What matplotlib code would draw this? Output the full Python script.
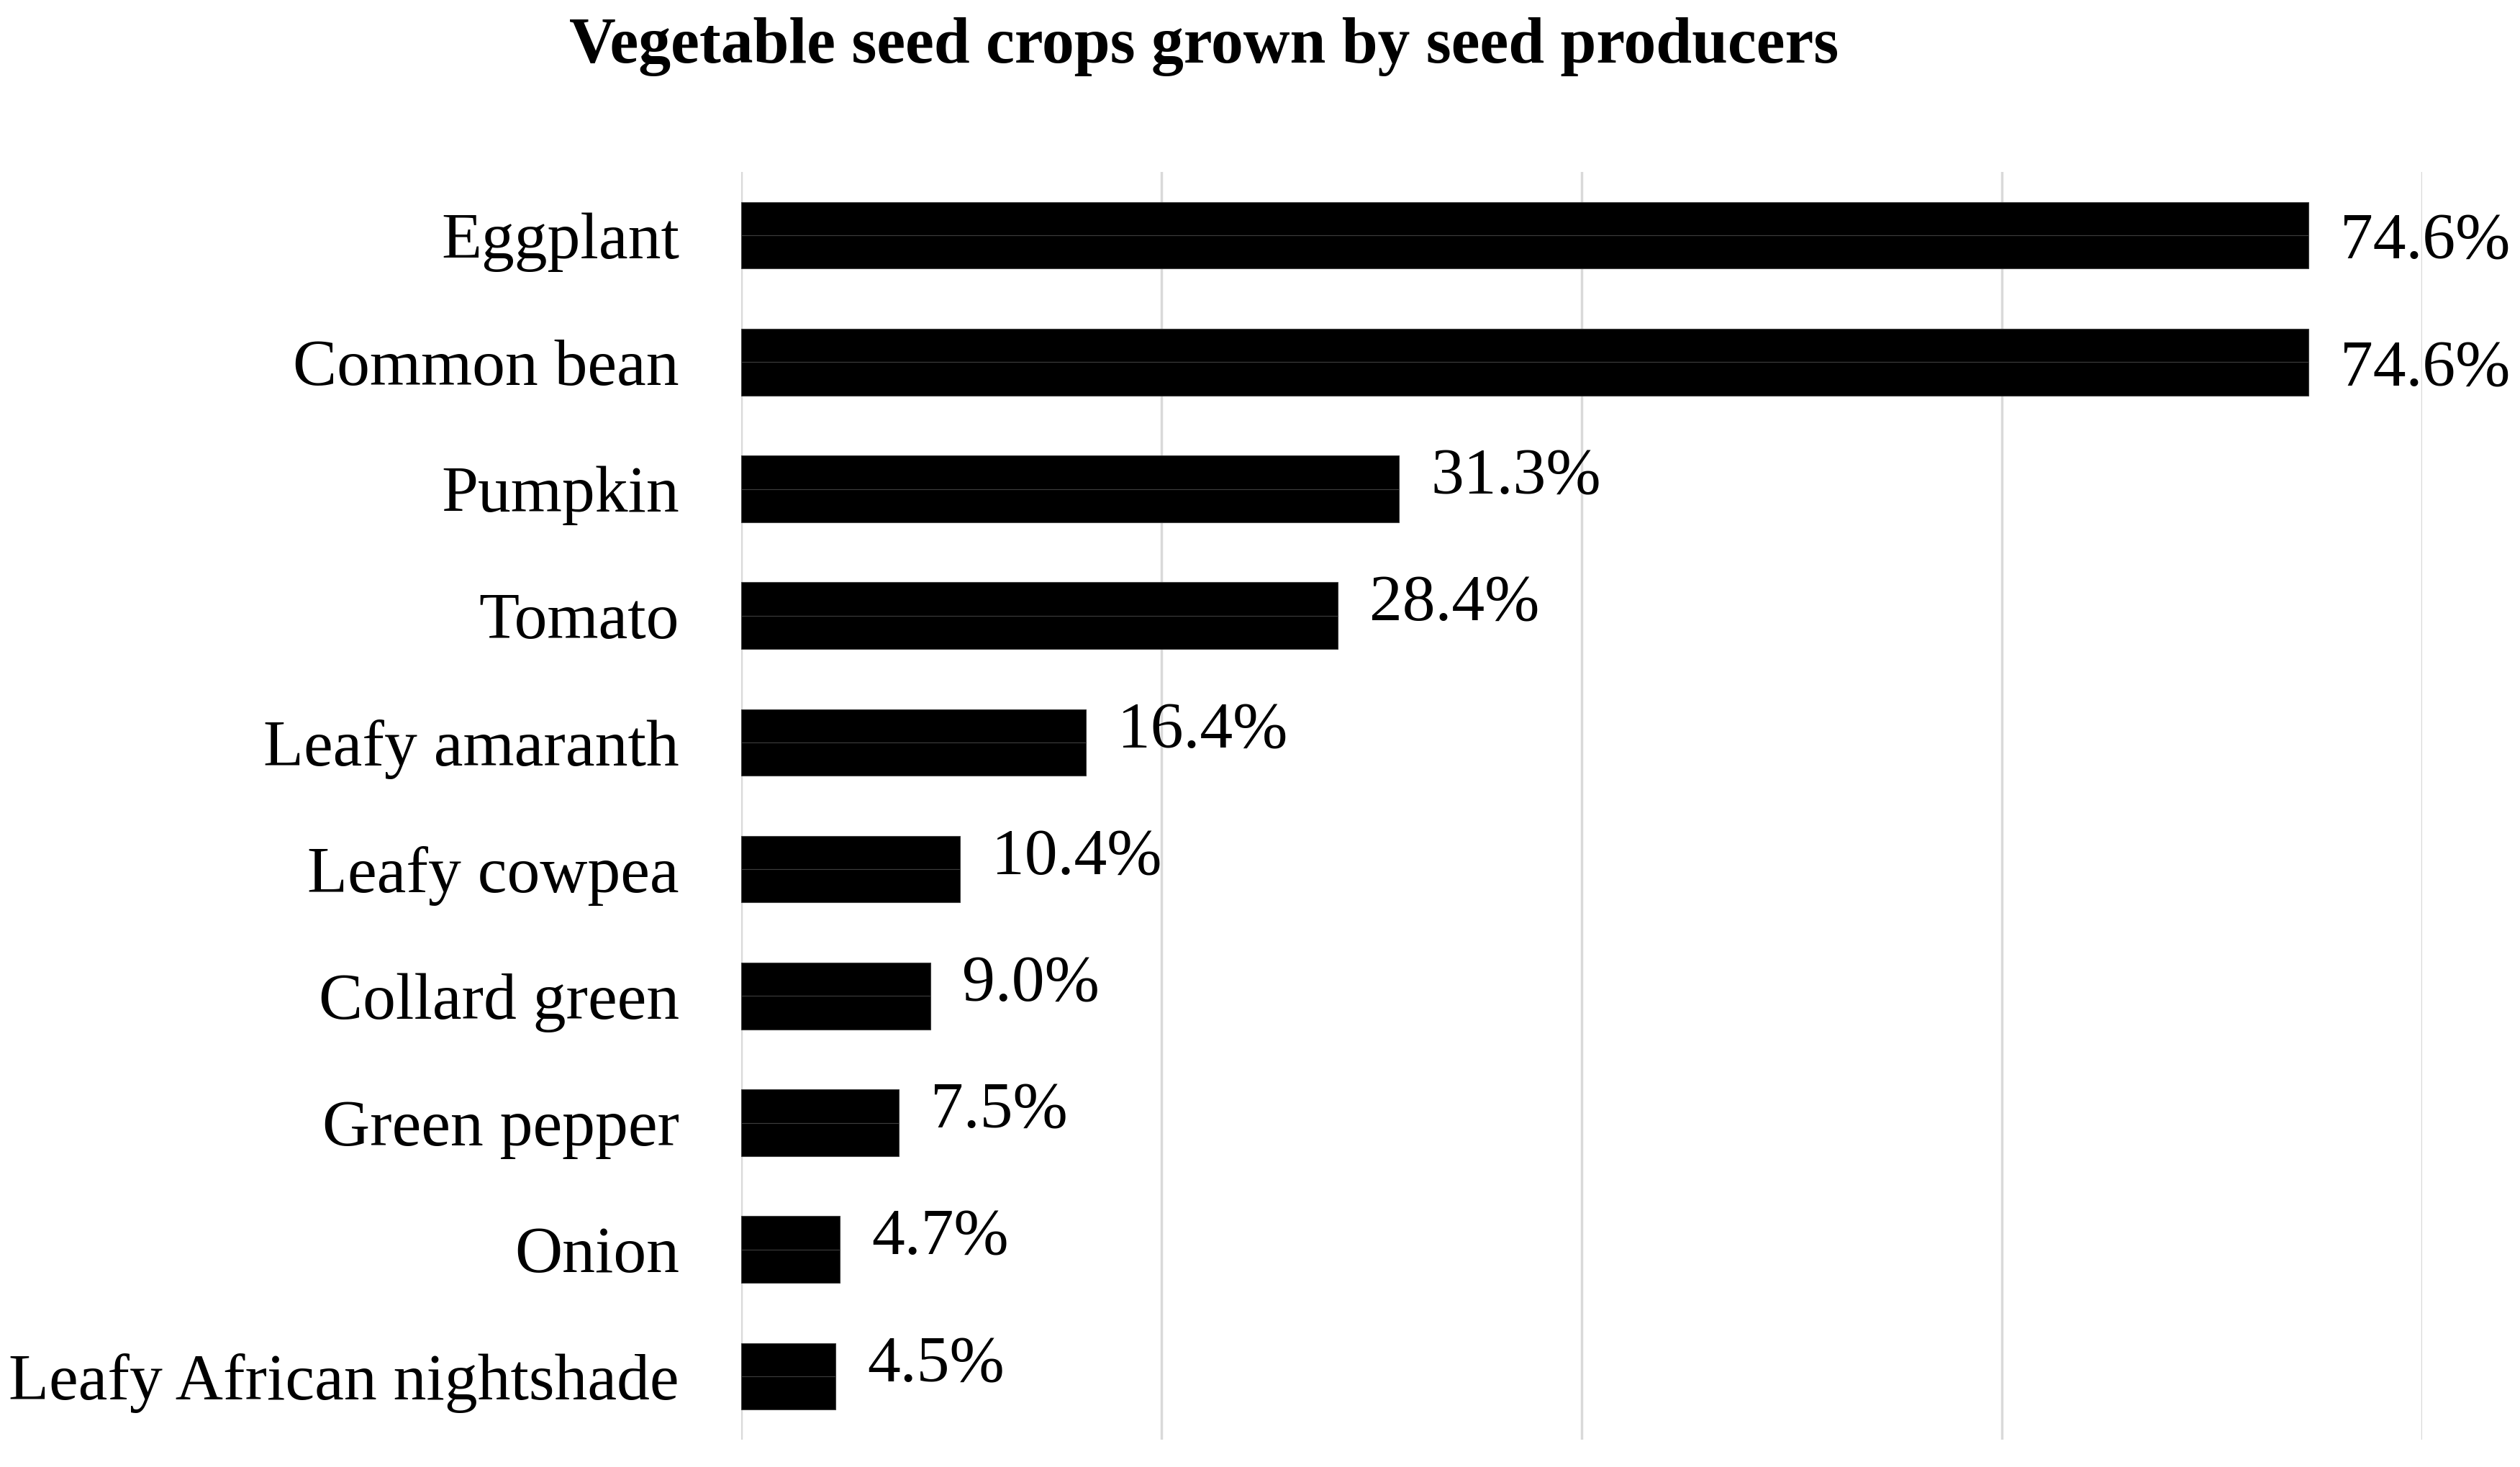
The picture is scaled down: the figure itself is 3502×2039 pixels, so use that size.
import matplotlib
matplotlib.use("Agg")
import matplotlib.pyplot as plt

categories = ["Eggplant", "Common bean", "Pumpkin", "Tomato", "Leafy amaranth",
              "Leafy cowpea", "Collard green", "Green pepper", "Onion",
              "Leafy African nightshade"]
values = [74.6, 74.6, 31.3, 28.4, 16.4, 10.4, 9.0, 7.5, 4.7, 4.5]
value_labels = ["74.6%", "74.6%", "31.3%", "28.4%", "16.4%", "10.4%", "9.0%",
                "7.5%", "4.7%", "4.5%"]
title = "Vegetable seed crops grown by seed producers"

FONT = ["Liberation Serif", "DejaVu Serif"]
plt.rcParams['font.family'] = FONT

W, H, DPI = 3502, 2039, 100
fig = plt.figure(figsize=(W / DPI, H / DPI), dpi=DPI)
L, R, T, B = 1030, 3366, 239, 2001
ax = fig.add_axes([L / W, 1 - B / H, (R - L) / W, (B - T) / H])

ypos = list(range(len(categories)))
bh = 0.525
for y, v in zip(ypos, values):
    ax.barh([y - bh / 4, y + bh / 4], [v, v], height=bh / 2, color="black",
            edgecolor="#3c3c3c", linewidth=0.8, zorder=3)

px_per_unit = (R - L) / 80
for y, v, lab in zip(ypos, values, value_labels):
    dy = 0.06 if v > 70 else -0.085
    ax.text(v + 44 / px_per_unit, y + dy, lab, va="center", ha="left",
            fontsize=66, color="black")

ax.set_xlim(0, 80)
ax.set_ylim(len(categories) - 0.5, -0.5)
ax.set_xticks([0, 20, 40, 60, 80])
ax.set_xticklabels([])
ax.set_yticks(ypos)
ax.set_yticklabels(categories, fontsize=66)
ax.tick_params(axis="both", length=0)
ax.tick_params(axis="y", pad=62)
ax.grid(axis="x", color="#d9d9d9", linewidth=2.5, zorder=0)
ax.set_axisbelow(True)
for s in ax.spines.values():
    s.set_visible(False)

fig.text(1673 / W, 1 - 87 / H, title, ha="center", va="baseline",
         fontsize=64.5, fontweight="bold")

fig.savefig("out.png", dpi=DPI, facecolor="white")
